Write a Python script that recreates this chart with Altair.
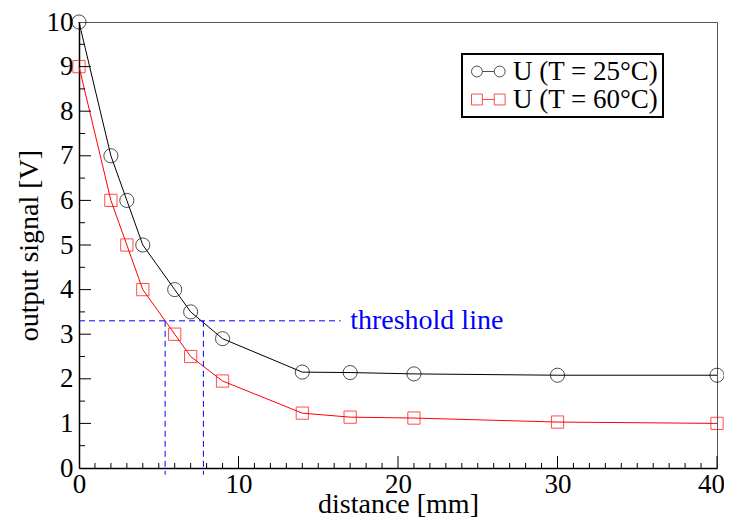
import altair as alt
import pandas as pd

# ---- data ----
distance = [0, 2, 3, 4, 6, 7, 9, 14, 17, 21, 30, 40]
u_25 = [10, 7, 6, 5, 4, 3.5, 2.9, 2.15, 2.14, 2.11, 2.08, 2.08]
u_60 = [9, 6, 5, 4, 3, 2.5, 1.95, 1.23, 1.14, 1.12, 1.03, 1.0]
series_names = ["U (T = 25°C)", "U (T = 60°C)"]
series_colors = ["#000000", "#ff0000"]

threshold_u = 3.3
threshold_cross = [5.4, 7.8]
threshold_end = 16.4
threshold_label = "threshold line"
threshold_label_x = 17.0

x_tick_labels = [0, 10, 20, 30, 40]
x_major = [10, 20, 30, 40]
x_minor = [1, 2, 3, 4, 5, 6, 7, 8, 9, 11, 12, 13, 14, 15, 16, 17, 18, 19,
           21, 22, 23, 24, 25, 26, 27, 28, 29, 31, 32, 33, 34, 35, 36, 37, 38, 39]
y_tick_labels = [0, 1, 2, 3, 4, 5, 6, 7, 8, 9, 10]
y_major = [1, 2, 3, 4, 5, 6, 7, 8, 9]
y_minor = [0.5, 1.5, 2.5, 3.5, 4.5, 5.5, 6.5, 7.5, 8.5, 9.5]

W, H = 638, 446
FONT = "Liberation Serif"
BLUE = "#0000ff"

xs = alt.Scale(domain=[0, 40], nice=False, zero=False)
ys = alt.Scale(domain=[0, 10], nice=False, zero=False)
x_axis = alt.Axis(values=x_tick_labels, labelPadding=3, labelFlush=False,
                  labelOffset=alt.expr("datum.value == 40 ? -6 : 0"),
                  titlePadding=-7)
y_axis = alt.Axis(values=y_tick_labels, labelPadding=6, titlePadding=3)


def X(field="distance"):
    return alt.X(f"{field}:Q", scale=xs, axis=x_axis, title="distance [mm]")


def Y(field="u"):
    return alt.Y(f"{field}:Q", scale=ys, axis=y_axis, title="output signal [V]")


df25 = pd.DataFrame({"distance": distance, "u": u_25})
df60 = pd.DataFrame({"distance": distance, "u": u_60})

layers = []
for df, col, shp, size in [(df25, series_colors[0], "circle", 200),
                           (df60, series_colors[1], "square", 150)]:
    layers.append(alt.Chart(df).mark_line(color=col, strokeWidth=1).encode(x=X(), y=Y()))
    layers.append(alt.Chart(df).mark_point(shape=shp, filled=False, color=col,
                                           size=size, strokeWidth=1).encode(x=X(), y=Y()))

# threshold lines
hline = pd.DataFrame({"distance": [0], "distance2": [threshold_end],
                      "u": [threshold_u]})
layers.append(alt.Chart(hline).mark_rule(color=BLUE, strokeWidth=1, strokeDash=[6, 4])
              .encode(x=X(), x2="distance2:Q", y=Y()))
vline = pd.DataFrame({"distance": threshold_cross, "u": [threshold_u] * 2,
                      "u2": [-0.15] * 2})
layers.append(alt.Chart(vline).mark_rule(color=BLUE, strokeWidth=1, strokeDash=[6, 4])
              .encode(x=X(), y=Y(), y2="u2:Q"))
tdf = pd.DataFrame({"distance": [threshold_label_x], "u": [threshold_u],
                    "label": [threshold_label]})
layers.append(alt.Chart(tdf).mark_text(align="left", baseline="middle", font=FONT,
                                       fontSize=28, color=BLUE)
              .encode(x=X(), y=Y(), text="label:N"))

# inward ticks
xmaj = pd.DataFrame({"distance": x_major})
xmin = pd.DataFrame({"distance": x_minor})
ymaj = pd.DataFrame({"u": y_major})
ymin = pd.DataFrame({"u": y_minor})
layers.append(alt.Chart(xmaj).mark_rule(color="black", strokeWidth=1)
              .encode(x=X(), y=alt.value(H), y2=alt.value(H - 12)))
layers.append(alt.Chart(xmin).mark_rule(color="black", strokeWidth=1)
              .encode(x=X(), y=alt.value(H), y2=alt.value(H - 5)))
layers.append(alt.Chart(ymaj).mark_rule(color="black", strokeWidth=1)
              .encode(y=Y(), x=alt.value(0), x2=alt.value(12)))
layers.append(alt.Chart(ymin).mark_rule(color="black", strokeWidth=1)
              .encode(y=Y(), x=alt.value(0), x2=alt.value(6)))

# legend (symbols: marker - line - marker)
path_circle = ("M -1 0 A 0.68 0.68 0 1 1 0.36 0 A 0.68 0.68 0 1 1 -1 0 Z "
               "M 0.36 0 L 1.84 0 "
               "M 1.84 0 A 0.68 0.68 0 1 1 3.2 0 A 0.68 0.68 0 1 1 1.84 0 Z")
path_square = ("M -1 -0.68 L 0.36 -0.68 L 0.36 0.68 L -1 0.68 Z "
               "M 0.36 0 L 1.84 0 "
               "M 1.84 -0.68 L 3.2 -0.68 L 3.2 0.68 L 1.84 0.68 Z")
legend = alt.Legend(orient="none", legendX=383, legendY=32, title=None,
                    labelFont=FONT, labelFontSize=27, labelColor="black",
                    symbolSize=256, symbolStrokeWidth=1, labelOffset=20,
                    strokeColor="black", fillColor="white", padding=4,
                    rowPadding=0)
ldf = pd.DataFrame({"series": series_names, "distance": [-999, -999], "u": [-999, -999]})
layers.append(alt.Chart(ldf).transform_filter("datum.distance > 0")
              .mark_point(filled=False)
              .encode(x=X(), y=Y(),
                      color=alt.Color("series:N", scale=alt.Scale(domain=series_names, range=series_colors), legend=legend),
                      shape=alt.Shape("series:N", scale=alt.Scale(domain=series_names, range=[path_circle, path_square]), legend=legend)))

chart = (alt.layer(*layers)
         .properties(width=W, height=H, autosize=alt.AutoSizeParams(type="none"),
                     padding={"left": 71, "top": 14, "right": 7, "bottom": 49},
                     background="white")
         .configure_view(stroke="#555555", strokeWidth=1)
         .configure_axis(domainColor="black", domainWidth=1.5, ticks=False, grid=False,
                         labelFont=FONT, labelFontSize=27, labelColor="black",
                         titleFont=FONT, titleFontSize=28, titleFontWeight="normal",
                         titleColor="black")
         .configure_legend(strokeWidth=2))

chart.save("out.html", embed_options={"renderer": "svg", "actions": False})
